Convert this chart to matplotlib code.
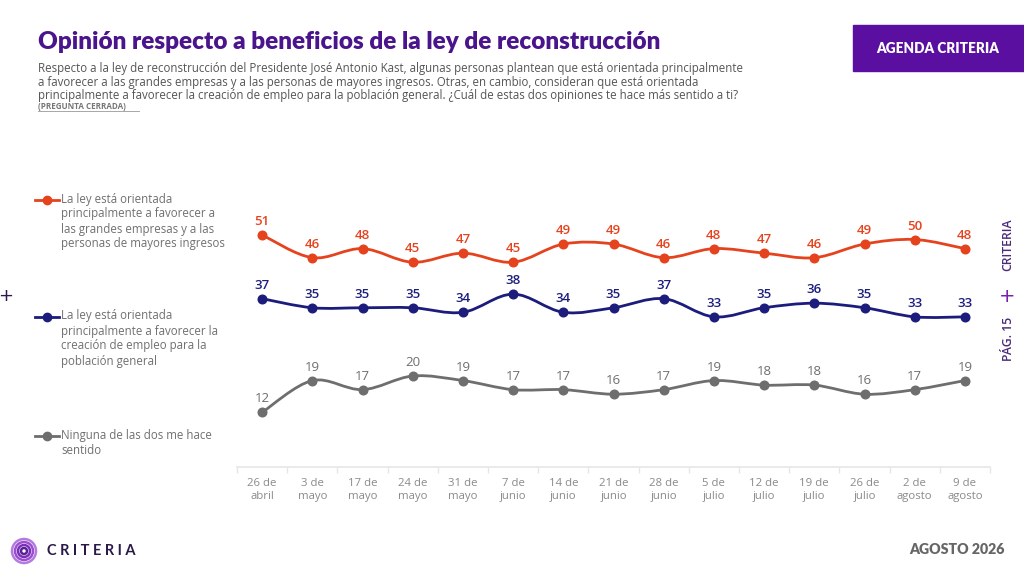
import matplotlib
matplotlib.use("Agg")
import matplotlib.pyplot as plt
from matplotlib.path import Path
from matplotlib.patches import PathPatch, Rectangle, Ellipse
from matplotlib.lines import Line2D
import numpy as np

# ---- data ----
categories = ["26 de\nabril", "3 de\nmayo", "17 de\nmayo", "24 de\nmayo", "31 de\nmayo",
              "7 de\njunio", "14 de\njunio", "21 de\njunio", "28 de\njunio", "5 de\njulio",
              "12 de\njulio", "19 de\njulio", "26 de\njulio", "2 de\nagosto", "9 de\nagosto"]
grandes_empresas = [51, 46, 48, 45, 47, 45, 49, 49, 46, 48, 47, 46, 49, 50, 48]
creacion_empleo = [37, 35, 35, 35, 34, 38, 34, 35, 37, 33, 35, 36, 35, 33, 33]
ninguna = [12, 19, 17, 20, 19, 17, 17, 16, 17, 19, 18, 18, 16, 17, 19]
series_labels = [
    "La ley está orientada\nprincipalmente a favorecer a\nlas grandes empresas y a las\npersonas de mayores ingresos",
    "La ley está orientada\nprincipalmente a favorecer la\ncreación de empleo para la\npoblación general",
    "Ninguna de las dos me hace\nsentido",
]

ORANGE = "#E5431E"
NAVY = "#1C1C7C"
GRAY = "#6E6E6E"
PURPLE = "#4A148C"
BOX = "#5A0FA0"

W, H = 1024, 566
fig = plt.figure(figsize=(W / 100, H / 100), dpi=100)
fig.patch.set_facecolor("white")

def fx(px):
    return px / W

def fy(py):
    return 1 - py / H

# axes
ax_l, ax_r, ax_b, ax_t = 237, 990, 467, 194
ax = fig.add_axes([fx(ax_l), fy(ax_b), (ax_r - ax_l) / W, (ax_b - ax_t) / H])
ax.set_xlim(-0.5, len(categories) - 0.5)
ax.set_ylim(0, 60)
for s in ["top", "right", "left"]:
    ax.spines[s].set_visible(False)
ax.spines["bottom"].set_color("#E6E6E6")
ax.spines["bottom"].set_linewidth(1.2)
ax.set_yticks([])
ax.set_xticks(np.arange(len(categories)))
ax.set_xticklabels(categories, fontsize=8.2, color="#8A8A8A", family="Open Sans", linespacing=1.25)
ax.tick_params(axis="x", length=0, pad=8)
ax.set_xticks(np.arange(len(categories) + 1) - 0.5, minor=True)
ax.tick_params(axis="x", which="minor", length=4, color="#E6E6E6", width=1)

def smooth_path(xs, ys, t=1.0):
    pts = np.column_stack([xs, ys]).astype(float)
    n = len(pts)
    verts = [pts[0]]
    codes = [Path.MOVETO]
    for i in range(n - 1):
        p0 = pts[i - 1] if i > 0 else pts[i]
        p1 = pts[i]
        p2 = pts[i + 1]
        p3 = pts[i + 2] if i + 2 < n else pts[i + 1]
        c1 = p1 + (p2 - p0) / 6 * t
        c2 = p2 - (p3 - p1) / 6 * t
        verts += [c1, c2, p2]
        codes += [Path.CURVE4] * 3
    return Path(verts, codes)

x = np.arange(len(categories))
for vals, col, bold in [(grandes_empresas, ORANGE, True), (creacion_empleo, NAVY, True), (ninguna, GRAY, False)]:
    ax.add_patch(PathPatch(smooth_path(x, vals), facecolor="none", edgecolor=col, lw=2, zorder=2))
    ax.plot(x, vals, "o", color=col, ms=6.2, zorder=3)
    for xi, v in zip(x, vals):
        ax.annotate(str(v), (xi, v), xytext=(0, 5), textcoords="offset points",
                    ha="center", va="bottom", fontsize=9.5, color=col,
                    fontweight="semibold" if bold else "normal", family="Open Sans")

# title & subtitle
fig.text(fx(38), fy(42), "Opinión respecto a beneficios de la ley de reconstrucción",
         fontsize=17.5, fontweight="heavy", color=PURPLE, family="Lato", va="center")
subtitle = ("Respecto a la ley de reconstrucción del Presidente José Antonio Kast, algunas personas plantean que está orientada principalmente\n"
            "a favorecer a las grandes empresas y a las personas de mayores ingresos. Otras, en cambio, consideran que está orientada\n"
            "principalmente a favorecer la creación de empleo para la población general. ¿Cuál de estas dos opiniones te hace más sentido a ti?")
fig.text(fx(38), fy(62), subtitle, fontsize=8.3, color="#555555", family="Open Sans",
         va="top", linespacing=1.06)
fig.text(fx(38), fy(106.5), "(PREGUNTA CERRADA)", fontsize=5.8, color="#777777", family="Open Sans",
         fontweight="bold", va="center")
fig.add_artist(Line2D([fx(38), fx(139)], [fy(111), fy(111)], color="#999999", lw=0.6))

# header box
fig.add_artist(Rectangle((fx(853), fy(71)), (1024 - 853) / W, 46 / H, color=BOX, transform=fig.transFigure))
fig.text(fx(938), fy(48.5), "AGENDA CRITERIA", fontsize=9.8, fontweight="heavy", color="white",
         family="Lato", ha="center", va="center")

# legend
leg_y = [200, 317, 436]
for lab, col, ly in zip(series_labels, [ORANGE, NAVY, GRAY], leg_y):
    fig.add_artist(Line2D([fx(35), fx(59)], [fy(ly), fy(ly)], color=col, lw=2))
    fig.add_artist(Line2D([fx(47)], [fy(ly)], marker="o", ms=6, color=col))
    fig.text(fx(61), fy(ly - 7.5), lab, fontsize=8.3, color="#707070", family="Open Sans",
             va="top", ha="left", linespacing=1.2)

# side decorations
fig.text(fx(6), fy(296), "+", fontsize=13, color="#2A1A4A", ha="center", va="center")
fig.text(fx(1008), fy(245), "CRITERIA", fontsize=8.8, rotation=90, color="#4A2A7A",
         family="Open Sans", fontweight="semibold", ha="center", va="center")
fig.text(fx(1007), fy(297), "+", fontsize=14, color="#7A1FB0", ha="center", va="center")
fig.text(fx(1008), fy(339), "PÁG. 15", fontsize=8.8, rotation=90, color="#4A2A7A",
         family="Open Sans", fontweight="semibold", ha="center", va="center")

# footer
for r, c in [(12, "#B47AE0"), (9, "#9A4FD0"), (6, "#7A2FB8"), (3, "#5A1F98")]:
    fig.add_artist(Ellipse((fx(24), fy(551)), 2 * r / W, 2 * r / H, fill=False,
                           edgecolor=c, lw=1.8, transform=fig.transFigure))
fig.text(fx(47), fy(551), "C R I T E R I A", fontsize=10.5, fontweight="bold", color="#2A1A4A",
         family="Lato", va="center")
fig.text(fx(1005), fy(549), "AGOSTO 2026", fontsize=10.2, fontweight="heavy", color="#666666",
         family="Lato", ha="right", va="center")

fig.savefig("out.png", dpi=100)
